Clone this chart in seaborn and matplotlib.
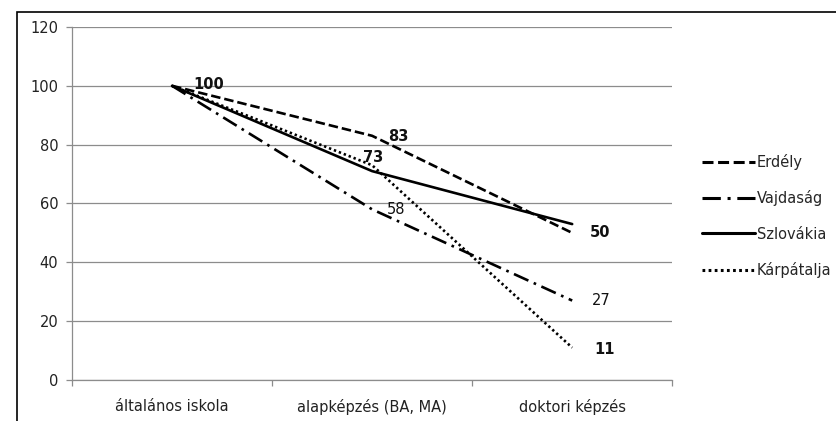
import pandas as pd
import seaborn as sns
import matplotlib.pyplot as plt
from matplotlib.patches import Rectangle

# data
categories = ['általános iskola', 'alapképzés (BA, MA)', 'doktori képzés']
regions = ['Erdély', 'Vajdaság', 'Szlovákia', 'Kárpátalja']
erdely = [100, 83, 50]
vajdasag = [100, 58, 27]
szlovakia = [100, 71, 53]
karpatalja = [100, 73, 11]

series = {'Erdély': erdely, 'Vajdaság': vajdasag,
          'Szlovákia': szlovakia, 'Kárpátalja': karpatalja}

rows = []
for name, vals in series.items():
    for cat, v in zip(categories, vals):
        rows.append({'kat': cat, 'ertek': v, 'regio': name})
df = pd.DataFrame(rows)

sns.set_theme(style='white')
plt.rcParams['font.family'] = ['Liberation Sans Narrow', 'DejaVu Sans']

fig = plt.figure(figsize=(8.36, 4.21), dpi=100)
ax = fig.add_axes([0.0861, 0.0974, 0.718, 0.8386])

dashes = {'Erdély': (3.6, 1.5), 'Vajdaság': (6, 2.2, 1, 2.2),
          'Szlovákia': '', 'Kárpátalja': (0.9, 1.1)}
sns.lineplot(data=df, x='kat', y='ertek', style='regio', style_order=regions,
             dashes=dashes, color='black', linewidth=1.9, ax=ax, legend='full',
             sort=False)

ax.set_ylim(0, 120)
ax.set_xlim(-0.5, 2.5)
ax.set_yticks(range(0, 121, 20))
ax.set_xlabel('')
ax.set_ylabel('')
ax.grid(axis='y', color='#8c8c8c', linewidth=0.9)
ax.set_axisbelow(True)
for s in ['top', 'right']:
    ax.spines[s].set_visible(False)
for s in ['left', 'bottom']:
    ax.spines[s].set_color('#8c8c8c')
    ax.spines[s].set_linewidth(0.9)

ax.tick_params(axis='y', length=4.3, width=0.9, color='#8c8c8c', pad=5.5,
               labelsize=10.5, labelcolor='#222222', left=True)
ax.set_xticks([-0.5, 0.5, 1.5, 2.5], minor=True)
ax.tick_params(axis='x', which='minor', length=4.3, width=0.9, color='#8c8c8c',
               bottom=True)
ax.tick_params(axis='x', which='major', length=0, pad=14, labelsize=10.5,
               labelcolor='#222222')

# data labels: (series, index, bold, dx, dy) in pixels
labels = [('Erdély', 0, True, 21, 1), ('Erdély', 1, True, 16, -1),
          ('Kárpátalja', 1, True, -9, 8), ('Vajdaság', 1, False, 15, 0),
          ('Erdély', 2, True, 18, 0), ('Vajdaság', 2, False, 20, 0),
          ('Kárpátalja', 2, True, 22, -2)]
for name, i, bold, dx, dy in labels:
    vals = series[name]
    ax.annotate(str(vals[i]), (i, vals[i]), xytext=(dx, dy),
                textcoords='offset pixels', ha='left', va='center',
                fontsize=10.5, fontweight='bold' if bold else 'normal',
                color='#111111')

leg = ax.legend(loc='center left', bbox_to_anchor=(1.04, 0.465), frameon=False,
                fontsize=10.5, handlelength=3.6, handletextpad=0.15,
                labelspacing=1.4, borderaxespad=0)
for h in leg.get_lines():
    h.set_linewidth(2.2)

fig.patches.append(Rectangle((17 / 836, -0.1), 2, 1.1 - 12 / 421,
                             transform=fig.transFigure, fill=False,
                             edgecolor='black', linewidth=1.2))

fig.savefig('out.png', dpi=100)
